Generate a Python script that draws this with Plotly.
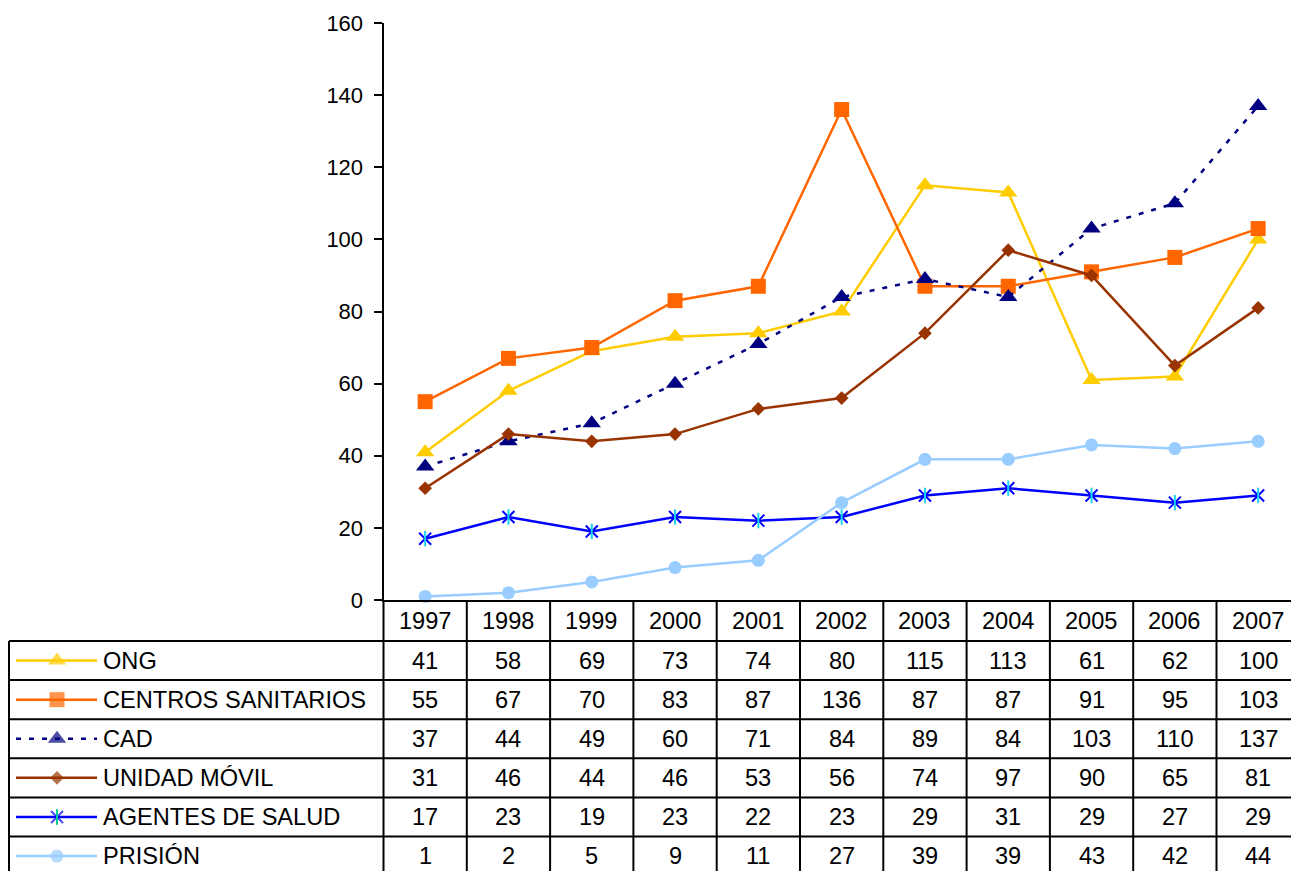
import plotly.graph_objects as go

# ---- data ---------------------------------------------------------------
years = ["1997", "1998", "1999", "2000", "2001", "2002",
         "2003", "2004", "2005", "2006", "2007"]

ong = [41, 58, 69, 73, 74, 80, 115, 113, 61, 62, 100]
centros_sanitarios = [55, 67, 70, 83, 87, 136, 87, 87, 91, 95, 103]
cad = [37, 44, 49, 60, 71, 84, 89, 84, 103, 110, 137]
unidad_movil = [31, 46, 44, 46, 53, 56, 74, 97, 90, 65, 81]
agentes_salud = [17, 23, 19, 23, 22, 23, 29, 31, 29, 27, 29]
prision = [1, 2, 5, 9, 11, 27, 39, 39, 43, 42, 44]

series_names = ["ONG", "CENTROS SANITARIOS", "CAD", "UNIDAD MÓVIL",
                "AGENTES DE SALUD", "PRISIÓN"]
series_values = [ong, centros_sanitarios, cad, unidad_movil,
                 agentes_salud, prision]

y_ticks = [0, 20, 40, 60, 80, 100, 120, 140, 160]

# ---- styles -------------------------------------------------------------
styles = [
    dict(color="#FFCC00", symbol="triangle-up", size=16, dash="solid"),
    dict(color="#FF6600", symbol="square", size=15, dash="solid"),
    dict(color="#000080", symbol="triangle-up", size=16, dash="5px,8px"),
    dict(color="#993300", symbol="diamond", size=10.5, dash="solid"),
    dict(color="#0000FF", symbol="x-thin-open", size=12, dash="solid"),
    dict(color="#99CCFF", symbol="circle", size=13, dash="solid"),
]

FONT = "Liberation Sans, Arial, sans-serif"
FS_TABLE = 23.6
FS_TICK = 22

# ---- page geometry (pixels) ---------------------------------------------
W, H = 1291, 871
PLOT_LEFT = 383.5
PLOT_TOP = 23
PLOT_BOTTOM = 600
COL_W = 83.3
ROW_TOP0 = 641
ROW_H = 39.1
TABLE_LEFT = 9


def py(p):
    """pixel row -> paper y"""
    return 1 - p / H


def px(p):
    """pixel column -> paper x"""
    return p / W


x_idx = list(range(len(years)))
x_max = -0.5 + (W - PLOT_LEFT) / COL_W

fig = go.Figure()

# ---- series lines -------------------------------------------------------
for name, vals, st in zip(series_names, series_values, styles):
    is_open = "open" in st["symbol"]
    fig.add_trace(go.Scatter(
        x=x_idx, y=vals, name=name, mode="lines+markers",
        line=dict(color=st["color"], width=2.5, dash=st["dash"]),
        marker=dict(symbol=st["symbol"], size=st["size"], color=st["color"],
                    line=dict(color=st["color"], width=2 if is_open else 0)),
        showlegend=False, cliponaxis=False,
    ))
    if st["symbol"] == "x-thin-open":
        # vertical stroke that turns the cross into a six-armed star
        fig.add_trace(go.Scatter(
            x=x_idx, y=vals, mode="markers", showlegend=False, hoverinfo="skip",
            marker=dict(symbol="line-ns-open", size=11,
                        line=dict(color=st["color"], width=2)),
            cliponaxis=False,
        ))

# ---- legend keys in the table's first column ----------------------------
for r, st in enumerate(styles):
    is_open = "open" in st["symbol"]
    yc = ROW_TOP0 + ROW_H * (r + 0.5)
    fig.add_trace(go.Scatter(
        x=[16, 57, 97], y=[yc, yc, yc], xaxis="x2", yaxis="y2",
        mode="lines+markers", showlegend=False, hoverinfo="skip",
        line=dict(color=st["color"], width=2.5, dash=st["dash"]),
        marker=dict(symbol=st["symbol"], size=[0, st["size"], 0], color=st["color"],
                    line=dict(color=st["color"], width=2 if is_open else 0)),
    ))
    if st["symbol"] == "x-thin-open":
        fig.add_trace(go.Scatter(
            x=[57], y=[yc], xaxis="x2", yaxis="y2", mode="markers",
            showlegend=False, hoverinfo="skip",
            marker=dict(symbol="line-ns-open", size=11,
                        line=dict(color=st["color"], width=2)),
        ))

annotations = []
shapes = []
txt_font = dict(family=FONT, size=FS_TABLE, color="black")

# header row with the years
for i, yr in enumerate(years):
    annotations.append(dict(
        x=i, xref="x", y=py((PLOT_BOTTOM + ROW_TOP0) / 2), yref="paper",
        text=yr, showarrow=False, xanchor="center", yanchor="middle",
        font=txt_font,
    ))

# value rows
for r, (name, vals) in enumerate(zip(series_names, series_values)):
    yc = py(ROW_TOP0 + ROW_H * (r + 0.5))
    annotations.append(dict(
        x=px(101), xref="paper", y=yc, yref="paper", text=name,
        showarrow=False, xanchor="left", yanchor="middle", font=txt_font,
    ))
    for i, v in enumerate(vals):
        annotations.append(dict(
            x=i, xref="x", y=yc, yref="paper", text=str(v),
            showarrow=False, xanchor="center", yanchor="middle", font=txt_font,
        ))

# table grid
grid = dict(color="black", width=2)
for r in range(len(series_names)):
    yl = py(ROW_TOP0 + ROW_H * r)
    shapes.append(dict(type="line", xref="paper", yref="paper",
                       x0=px(TABLE_LEFT), x1=1, y0=yl, y1=yl, line=grid))
for i in range(len(years) - 1):
    shapes.append(dict(type="line", xref="x", yref="paper",
                       x0=i + 0.5, x1=i + 0.5, y0=py(PLOT_BOTTOM), y1=0, line=grid))
shapes.append(dict(type="line", xref="paper", yref="paper",
                   x0=px(PLOT_LEFT), x1=px(PLOT_LEFT), y0=py(PLOT_BOTTOM), y1=0, line=grid))
shapes.append(dict(type="line", xref="paper", yref="paper",
                   x0=px(TABLE_LEFT), x1=px(TABLE_LEFT), y0=py(ROW_TOP0), y1=0, line=grid))

fig.update_layout(
    width=W, height=H,
    margin=dict(l=0, r=0, t=0, b=0, pad=0, autoexpand=False),
    paper_bgcolor="white", plot_bgcolor="rgba(0,0,0,0)",
    font=dict(family=FONT, size=FS_TABLE, color="black"),
    xaxis=dict(
        domain=[px(PLOT_LEFT), 1], range=[-0.5, x_max],
        showticklabels=False, ticks="", showgrid=False, zeroline=False,
        showline=True, linecolor="black", linewidth=2, anchor="y",
        automargin=False,
    ),
    yaxis=dict(
        domain=[py(PLOT_BOTTOM), py(PLOT_TOP)], range=[0, 160],
        tickvals=y_ticks, ticks="outside", ticklen=8, tickwidth=2,
        tickcolor="black", showgrid=False, zeroline=False,
        showline=True, linecolor="black", linewidth=2, anchor="x",
        tickfont=dict(family=FONT, size=FS_TICK, color="black"),
        ticklabelstandoff=6, automargin=False,
    ),
    xaxis2=dict(domain=[0, 1], range=[0, W], visible=False, anchor="y2",
                automargin=False),
    yaxis2=dict(domain=[0, 1], range=[H, 0], visible=False, anchor="x2",
                automargin=False),
    annotations=annotations,
    shapes=shapes,
)

fig.write_html("out.html")
